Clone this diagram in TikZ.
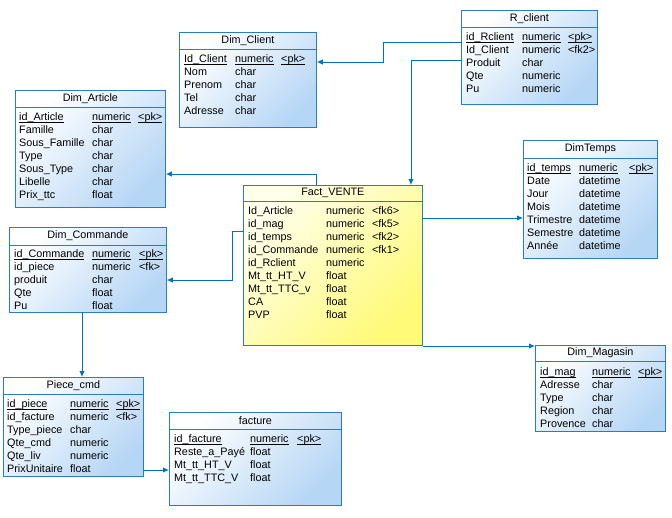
\documentclass[tikz,border=0pt]{standalone}
\usepackage{fontspec}
\setmainfont{Liberation Sans}
\usetikzlibrary{arrows.meta,positioning}
\definecolor{tblborder}{RGB}{40,125,190}
\definecolor{tblblue}{RGB}{182,214,245}
\definecolor{factlight}{RGB}{255,255,235}
\definecolor{factyel}{RGB}{255,250,120}
\definecolor{linkblue}{RGB}{0,112,192}
% souligne la cle primaire
\newcommand\pkul[1]{\leavevmode\setbox0\hbox{#1}\rlap{\vrule width\wd0 height -1.5pt depth 2.2pt}\box0}
\tikzset{
	tbl/.style={draw=tblborder, line width=0.8pt, anchor=north west, inner sep=0pt,
		top color=white, bottom color=tblblue, shading angle=45},
	facttbl/.style={tbl, top color=factlight, bottom color=factyel, shading angle=45},
	ttl/.style={inner sep=0pt, font=\fontsize{10.8}{13}\selectfont},
	body/.style={anchor=north west, inner sep=0pt, align=left, font=\fontsize{10.8}{13}\selectfont},
	sep/.style={draw=tblborder, line width=0.8pt},
	fk/.style={draw=linkblue, line width=0.9pt, -{Latex[length=6pt,width=5.5pt]}}
}
\begin{document}
\begin{tikzpicture}[x=1pt, y=-1pt]
			\useasboundingbox (0,0) rectangle (672,517);
			\fill[white] (0,0) rectangle (672,517);

			% Dim_Client
			\node[tbl, minimum width=137pt, minimum height=95pt] (client) at (179,32) {};
			\node[ttl] (client-t) at ([yshift=-8.5pt]client.north) {Dim\_Client};
			\draw[sep] ([yshift=-17pt]client.north west) -- ([yshift=-17pt]client.north east);
			\node[body] (client-b) at ([xshift=5pt,yshift=-21pt]client.north west) {\begin{tabular}{@{}p{51pt}@{}p{46pt}@{}l@{}}
				\pkul{Id\_Client} & \pkul{numeric} & \pkul{<pk>}\\ Nom & char\\ Prenom & char\\ Tel & char\\ Adresse & char
			\end{tabular}};

			% R_client
			\node[tbl, minimum width=136pt, minimum height=94pt] (rclient) at (461,10) {};
			\node[ttl] (rclient-t) at ([yshift=-8.5pt]rclient.north) {R\_client};
			\draw[sep] ([yshift=-17pt]rclient.north west) -- ([yshift=-17pt]rclient.north east);
			\node[body] (rclient-b) at ([xshift=5pt,yshift=-21pt]rclient.north west) {\begin{tabular}{@{}p{56pt}@{}p{46pt}@{}l@{}}
				\pkul{id\_Rclient} & \pkul{numeric} & \pkul{<pk>}\\ Id\_Client & numeric & <fk2>\\ Produit & char\\ Qte & numeric\\ Pu & numeric
			\end{tabular}};

			% Dim_Article
			\node[tbl, minimum width=150pt, minimum height=117pt] (article) at (15,90) {};
			\node[ttl] (article-t) at ([yshift=-8.5pt]article.north) {Dim\_Article};
			\draw[sep] ([yshift=-17pt]article.north west) -- ([yshift=-17pt]article.north east);
			\node[body] (article-b) at ([xshift=4pt,yshift=-21pt]article.north west) {\begin{tabular}{@{}p{73pt}@{}p{46pt}@{}l@{}}
				\pkul{id\_Article} & \pkul{numeric} & \pkul{<pk>}\\ Famille & char\\ Sous\_Famille & char\\ Type & char\\
				Sous\_Type & char\\ Libelle & char\\ Prix\_ttc & float
			\end{tabular}};

			% Fact_VENTE
			\node[facttbl, minimum width=179pt, minimum height=160pt] (fact) at (243,185) {};
			\node[ttl] (fact-t) at ([yshift=-8pt]fact.north) {Fact\_VENTE};
			\draw[sep] ([yshift=-16pt]fact.north west) -- ([yshift=-16pt]fact.north east);
			\node[body] (fact-b) at ([xshift=5pt,yshift=-20pt]fact.north west) {\begin{tabular}{@{}p{78pt}@{}p{46pt}@{}l@{}}
				Id\_Article & numeric & <fk6>\\ id\_mag & numeric & <fk5>\\ id\_temps & numeric & <fk2>\\
				id\_Commande & numeric & <fk1>\\ id\_Rclient & numeric\\ Mt\_tt\_HT\_V & float\\
				Mt\_tt\_TTC\_v & float\\ CA & float\\ PVP & float
			\end{tabular}};

			% DimTemps
			\node[tbl, minimum width=134pt, minimum height=118pt] (temps) at (523,140) {};
			\node[ttl] (temps-t) at ([yshift=-9pt]temps.north) {DimTemps};
			\draw[sep] ([yshift=-18pt]temps.north west) -- ([yshift=-18pt]temps.north east);
			\node[body] (temps-b) at ([xshift=4pt,yshift=-22pt]temps.north west) {\begin{tabular}{@{}p{52pt}@{}p{50pt}@{}l@{}}
				\pkul{id\_temps} & \pkul{numeric} & \pkul{<pk>}\\ Date & datetime\\ Jour & datetime\\ Mois & datetime\\
				Trimestre & datetime\\ Semestre & datetime\\ Année & datetime
			\end{tabular}};

			% Dim_Commande
			\node[tbl, minimum width=157pt, minimum height=85pt] (commande) at (9,227) {};
			\node[ttl] (commande-t) at ([yshift=-9pt]commande.north) {Dim\_Commande};
			\draw[sep] ([yshift=-18pt]commande.north west) -- ([yshift=-18pt]commande.north east);
			\node[body] (commande-b) at ([xshift=5pt,yshift=-21pt]commande.north west) {\begin{tabular}{@{}p{78pt}@{}p{47pt}@{}l@{}}
				\pkul{id\_Commande} & \pkul{numeric} & \pkul{<pk>}\\ id\_piece & numeric & <fk>\\ produit & char\\ Qte & float\\ Pu & float
			\end{tabular}};

			% Piece_cmd
			\node[tbl, minimum width=140pt, minimum height=99pt] (piece) at (3,377) {};
			\node[ttl] (piece-t) at ([yshift=-8.5pt]piece.north) {Piece\_cmd};
			\draw[sep] ([yshift=-17pt]piece.north west) -- ([yshift=-17pt]piece.north east);
			\node[body] (piece-b) at ([xshift=4pt,yshift=-21pt]piece.north west) {\begin{tabular}{@{}p{63pt}@{}p{46pt}@{}l@{}}
				\pkul{id\_piece} & \pkul{numeric} & \pkul{<pk>}\\ id\_facture & numeric & <fk>\\ Type\_piece & char\\
				Qte\_cmd & numeric\\ Qte\_liv & numeric\\ PrixUnitaire & float
			\end{tabular}};

			% facture
			\node[tbl, minimum width=172pt, minimum height=93pt] (facture) at (169,412) {};
			\node[ttl] (facture-t) at ([yshift=-8.5pt]facture.north) {facture};
			\draw[sep] ([yshift=-17pt]facture.north west) -- ([yshift=-17pt]facture.north east);
			\node[body] (facture-b) at ([xshift=5pt,yshift=-21pt]facture.north west) {\begin{tabular}{@{}p{76pt}@{}p{47pt}@{}l@{}}
				\pkul{id\_facture} & \pkul{numeric} & \pkul{<pk>}\\ Reste\_a\_Payé & float\\ Mt\_tt\_HT\_V & float\\ Mt\_tt\_TTC\_V & float
			\end{tabular}};

			% Dim_Magasin
			\node[tbl, minimum width=130pt, minimum height=86pt] (magasin) at (535,345) {};
			\node[ttl] (magasin-t) at ([yshift=-8pt]magasin.north) {Dim\_Magasin};
			\draw[sep] ([yshift=-16pt]magasin.north west) -- ([yshift=-16pt]magasin.north east);
			\node[body] (magasin-b) at ([xshift=5pt,yshift=-21pt]magasin.north west) {\begin{tabular}{@{}p{52pt}@{}p{46pt}@{}l@{}}
				\pkul{id\_mag} & \pkul{numeric} & \pkul{<pk>}\\ Adresse & char\\ Type & char\\ Region & char\\ Provence & char
			\end{tabular}};

			% Liens (cles etrangeres)
			\draw[fk] (rclient.west |- 0,42) -| (383,62) -- (client.east |- 0,62);
			\draw[fk] (rclient.west |- 0,60) -| (fact.north -| 411,0);
			\draw[fk] (fact.north -| 316,0) |- (article.east |- 0,174);
			\draw[fk] (fact.east |- 0,218) -- (temps.west |- 0,218);
			\draw[fk] (fact.west |- 0,231) -| (232,280) -- (commande.east |- 0,280);
			\draw[fk] (fact.east |- 0,346) -- (magasin.west |- 0,346);
			\draw[fk] (commande.south -| 82,0) -- (piece.north -| 82,0);
			\draw[fk] (piece.east |- 0,470) -- (facture.west |- 0,470);

		\end{tikzpicture}
\end{document}
